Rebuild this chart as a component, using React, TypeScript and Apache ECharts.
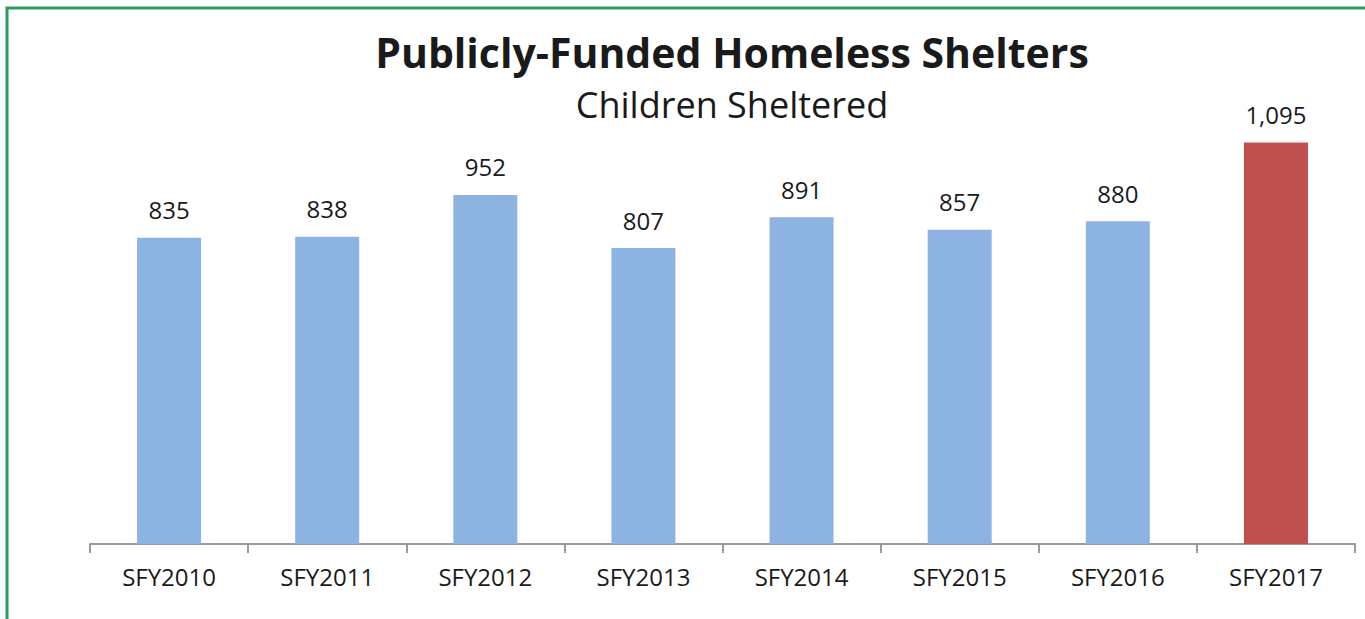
import React, { useEffect, useRef } from "react";
import * as echarts from "echarts";

const categories = ["SFY2010", "SFY2011", "SFY2012", "SFY2013", "SFY2014", "SFY2015", "SFY2016", "SFY2017"];
const childrenSheltered = [835, 838, 952, 807, 891, 857, 880, 1095];
const barColors = ["#8db3e2", "#8db3e2", "#8db3e2", "#8db3e2", "#8db3e2", "#8db3e2", "#8db3e2", "#c0504d"];

export default function App() {
  const ref = useRef<HTMLDivElement>(null);
  useEffect(() => {
    if (!ref.current) return;
    const chart = echarts.init(ref.current, null, { renderer: "svg" });
    chart.setOption({
      animation: false,
      backgroundColor: "#ffffff",
      textStyle: { fontFamily: "Open Sans" },
      title: [
        {
          text: "Publicly-Funded Homeless Shelters",
          left: 727,
          textAlign: "center",
          top: 26,
          textStyle: { fontSize: 41, fontWeight: "bold", color: "#1a1a1a", fontFamily: "Open Sans" },
        },
        {
          text: "Children Sheltered",
          left: 727,
          textAlign: "center",
          top: 81,
          textStyle: { fontSize: 36, fontWeight: "normal", color: "#1a1a1a", fontFamily: "Open Sans" },
        },
      ],
      graphic: [
        {
          type: "rect",
          shape: { x: 7, y: 8, width: 1420, height: 700 },
          style: { fill: "none", stroke: "#2f9a5c", lineWidth: 3 },
          z: 100,
        },
      ],
      grid: { left: 90, right: 10, top: 104, bottom: 75 },
      xAxis: {
        type: "category",
        data: categories,
        axisLine: { lineStyle: { color: "#9a9a9a", width: 2 } },
        axisTick: { show: true, length: 9, lineStyle: { color: "#9a9a9a", width: 2 } },
        axisLabel: { color: "#1a1a1a", fontSize: 24, margin: 20, fontFamily: "Open Sans" },
      },
      yAxis: {
        type: "value",
        min: 0,
        max: 1200,
        show: false,
        splitLine: { show: false },
      },
      series: [
        {
          type: "bar",
          data: childrenSheltered.map((v, i) => ({ value: v, itemStyle: { color: barColors[i] } })),
          barWidth: 64,
          z: 1,
          label: {
            show: true,
            position: "top",
            distance: 16,
            color: "#1a1a1a",
            fontSize: 24,
            fontFamily: "Open Sans",
            formatter: (p: any) => Number(p.value).toLocaleString("en-US"),
          },
        },
      ],
    });
    return () => chart.dispose();
  }, []);
  return <div ref={ref} style={{ position: "fixed", left: 0, top: 0, width: 1365, height: 619 }} />;
}
